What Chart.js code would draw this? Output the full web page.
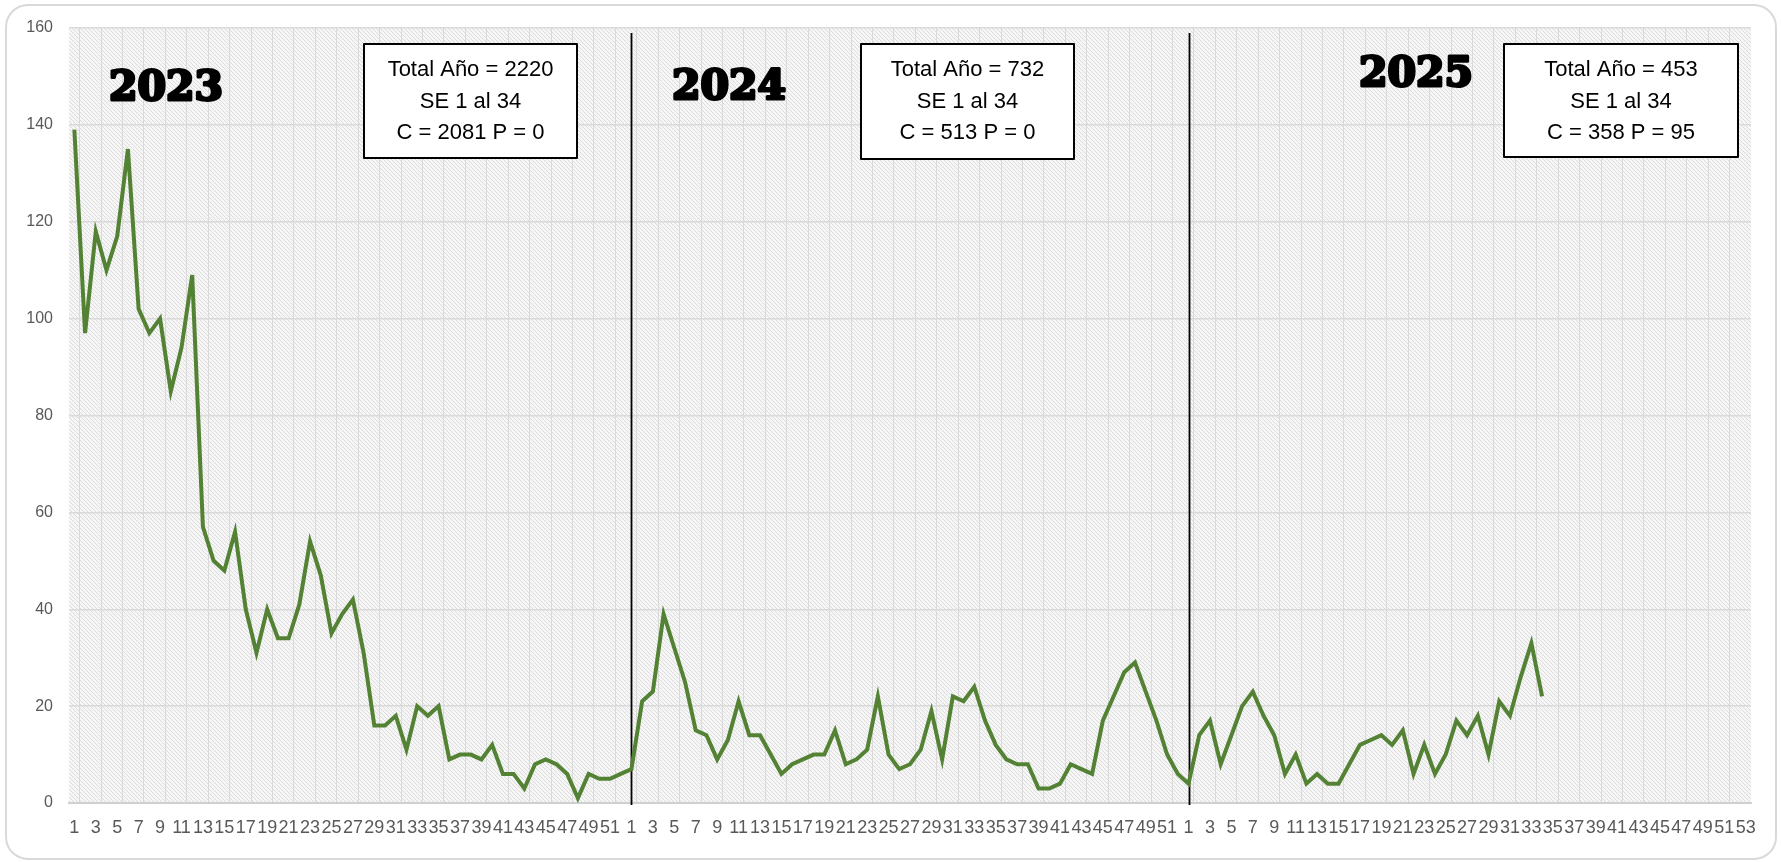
<!DOCTYPE html>
<html>
<head>
<meta charset="utf-8">
<script src="https://cdn.jsdelivr.net/npm/chart.js@4.4.1/dist/chart.umd.min.js"></script>
<style>
  html, body { margin: 0; padding: 0; background: #ffffff; }
  #wrap { position: absolute; left: 0; top: 0; width: 1781px; height: 862px; }
</style>
</head>
<body>
<div id="wrap"><canvas id="c" width="1781" height="862"></canvas></div>
<script>
// ---- Data ----
const weeks2023 = [1,2,3,4,5,6,7,8,9,10,11,12,13,14,15,16,17,18,19,20,21,22,23,24,25,26,27,28,29,30,31,32,33,34,35,36,37,38,39,40,41,42,43,44,45,46,47,48,49,50,51,52];
const weeks2024 = [1,2,3,4,5,6,7,8,9,10,11,12,13,14,15,16,17,18,19,20,21,22,23,24,25,26,27,28,29,30,31,32,33,34,35,36,37,38,39,40,41,42,43,44,45,46,47,48,49,50,51,52];
const weeks2025 = [1,2,3,4,5,6,7,8,9,10,11,12,13,14,15,16,17,18,19,20,21,22,23,24,25,26,27,28,29,30,31,32,33,34,35,36,37,38,39,40,41,42,43,44,45,46,47,48,49,50,51,52,53];

const values2023 = [139,97,118,110,117,135,102,97,100,85,94,109,57,50,48,56,40,31,40,34,34,41,54,47,35,39,42,31,16,16,18,11,20,18,20,9,10,10,9,12,6,6,3,8,9,8,6,1,6,5,5,6];
const values2024 = [7,21,23,39,32,25,15,14,9,13,21,14,14,10,6,8,9,10,10,15,8,9,11,22,10,7,8,11,19,9,22,21,24,17,12,9,8,8,3,3,4,8,7,6,17,22,27,29,23,17,10,6];
const values2025 = [4,14,17,8,14,20,23,18,14,6,10,4,6,4,4,8,12,13,14,12,15,6,12,6,10,17,14,18,10,21,18,26,33,22,null,null,null,null,null,null,null,null,null,null,null,null,null,null,null,null,null,null,null];

const yearLabels = ['2023', '2024', '2025'];
const boxTexts = [
  ['Total Año = 2220', 'SE 1 al 34', 'C = 2081 P = 0'],
  ['Total Año = 732', 'SE 1 al 34', 'C = 513 P = 0'],
  ['Total Año = 453', 'SE 1 al 34', 'C = 358 P = 95']
];
const yTicks = [0, 20, 40, 60, 80, 100, 120, 140, 160];

// ---- Build ----
const labels = [...weeks2023, ...weeks2024, ...weeks2025].map(String);
const series = [...values2023, ...values2024, ...values2025];
const yearStartIdx = [0, weeks2023.length, weeks2023.length + weeks2024.length];

function makePattern(ctx) {
  const p = document.createElement('canvas');
  p.width = 4; p.height = 4;
  const g = p.getContext('2d');
  g.fillStyle = '#f6f6f6';
  g.fillRect(0, 0, 4, 4);
  g.strokeStyle = '#dcdcdc';
  g.lineWidth = 1;
  g.beginPath();
  g.moveTo(-1, -1); g.lineTo(5, 5);
  g.moveTo(-1, 3); g.lineTo(1, 5);
  g.moveTo(3, -1); g.lineTo(5, 1);
  g.stroke();
  return ctx.createPattern(p, 'repeat');
}

const decor = {
  id: 'decor',
  beforeDraw(chart) {
    const { ctx, chartArea: a } = chart;
    ctx.save();
    ctx.strokeStyle = '#d9d9d9';
    ctx.lineWidth = 2;
    ctx.beginPath();
    ctx.roundRect(6, 5, 1770, 854, 22);
    ctx.stroke();
    ctx.fillStyle = makePattern(ctx);
    ctx.fillRect(a.left, a.top, a.right - a.left, a.bottom - a.top);
    ctx.restore();
  },
  beforeDatasetsDraw(chart) {
    const { ctx, chartArea: a, scales } = chart;
    ctx.save();
    ctx.strokeStyle = '#000000';
    ctx.lineWidth = 1.8;
    for (let k = 1; k < yearStartIdx.length; k++) {
      const x = Math.round(scales.x.getPixelForValue(yearStartIdx[k])) + 0.5;
      ctx.beginPath();
      ctx.moveTo(x, a.top + 5);
      ctx.lineTo(x, a.bottom + 2);
      ctx.stroke();
    }
    ctx.restore();
  },
  afterDraw(chart) {
    const { ctx } = chart;
    ctx.save();
    const yearPos = [[166, 100], [729, 99], [1416, 86]];
    ctx.fillStyle = '#000000';
    ctx.strokeStyle = '#000000';
    ctx.lineWidth = 3;
    ctx.lineJoin = 'round';
    ctx.font = 'bold 41px "DejaVu Serif"';
    ctx.textAlign = 'center';
    ctx.textBaseline = 'alphabetic';
    yearLabels.forEach((t, i) => {
      ctx.strokeText(t, yearPos[i][0], yearPos[i][1]);
      ctx.fillText(t, yearPos[i][0], yearPos[i][1]);
    });
    const boxes = [[364, 44, 213, 114], [861, 44, 213, 115], [1504, 44, 234, 113]];
    boxes.forEach((b, i) => {
      ctx.fillStyle = '#ffffff';
      ctx.fillRect(b[0], b[1], b[2], b[3]);
      ctx.strokeStyle = '#000000';
      ctx.lineWidth = 2;
      ctx.strokeRect(b[0], b[1], b[2], b[3]);
      ctx.fillStyle = '#000000';
      ctx.font = '22px "Liberation Sans"';
      ctx.textAlign = 'center';
      ctx.textBaseline = 'middle';
      const cx = b[0] + b[2] / 2;
      boxTexts[i].forEach((line, j) => ctx.fillText(line, cx, b[1] + 26 + j * 31.5));
    });
    ctx.restore();
  }
};

new Chart(document.getElementById('c'), {
  type: 'line',
  data: {
    labels: labels,
    datasets: [{
      data: series,
      borderColor: '#548235',
      borderWidth: 4,
      pointRadius: 0,
      tension: 0,
      fill: false,
      spanGaps: false
    }]
  },
  options: {
    responsive: false,
    animation: false,
    events: [],
    layout: { padding: { left: 0, right: 30, top: 28, bottom: 19 } },
    plugins: { legend: { display: false }, tooltip: { enabled: false } },
    scales: {
      x: {
        type: 'category',
        offset: true,
        grid: {
          offset: true,
          drawTicks: false,
          lineWidth: 1,
          color: (c) => (c.index % 2 === 1 ? '#d9d9d9' : 'rgba(0,0,0,0)')
        },
        border: { display: true, color: '#d0d0d0', width: 2 },
        ticks: {
          autoSkip: false,
          maxRotation: 0,
          minRotation: 0,
          padding: 14,
          color: '#595959',
          font: { family: 'Liberation Sans', size: 18 },
          callback: (v, i) => (i % 2 === 0 ? labels[i] : '')
        },
        afterFit: (s) => { s.height = 40; }
      },
      y: {
        min: yTicks[0],
        max: yTicks[yTicks.length - 1],
        afterBuildTicks: (s) => { s.ticks = yTicks.map(v => ({ value: v })); },
        ticks: {
          padding: 16,
          color: '#595959',
          font: { family: 'Liberation Sans', size: 16 }
        },
        grid: { color: '#dadada', lineWidth: 1.5, drawTicks: false },
        border: { display: false },
        afterFit: (s) => { s.width = 69; }
      }
    }
  },
  plugins: [decor]
});
</script>
</body>
</html>
